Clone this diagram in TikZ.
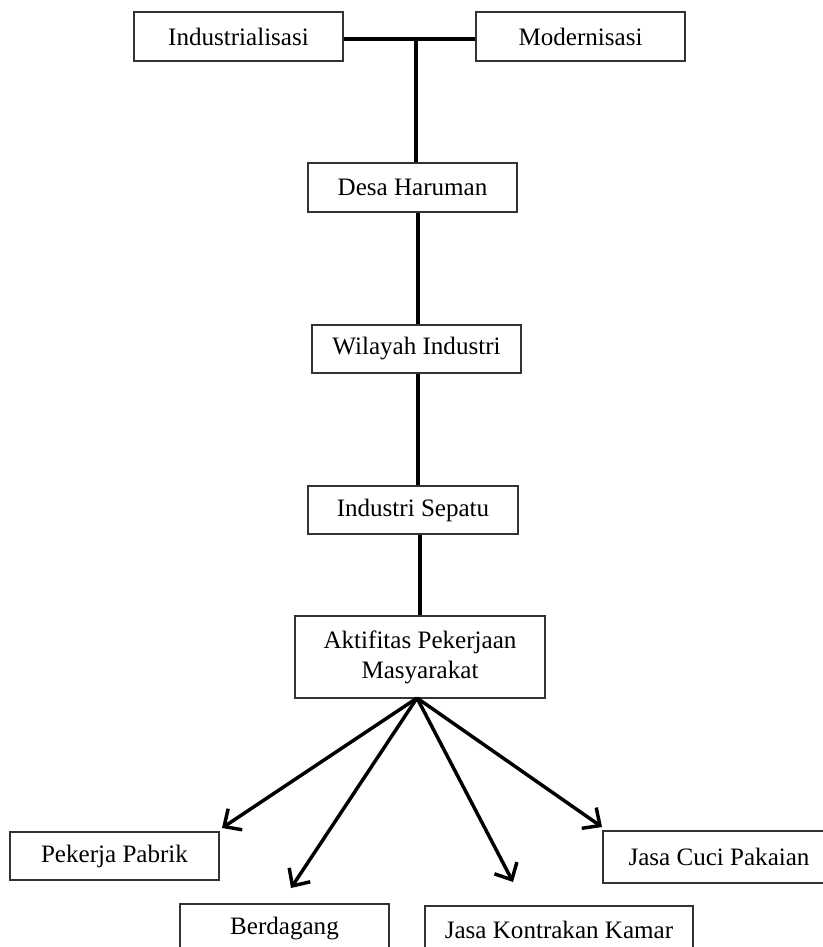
\documentclass[tikz,border=0pt]{standalone}
\usepackage{fontspec}
\setmainfont{Liberation Serif}
\usetikzlibrary{arrows.meta}
\begin{document}
\begin{tikzpicture}[x=0.75pt,y=-0.75pt,
  box/.style={draw=black!80,line width=1pt,fill=white,inner sep=0pt,align=center,
    font=\fontsize{18.8}{22.5}\selectfont},
  link/.style={line width=2.6pt,line cap=butt},
  arr/.style={line width=2.6pt,-{Straight Barb[length=10pt,width=19pt,line width=2.6pt]}}]
\useasboundingbox (0,0) rectangle (823,947);
\clip (0,0) rectangle (823,947);
\node[box,minimum width=209*0.75pt,minimum height=49*0.75pt] (ind) at (238.5,36.5) {Industrialisasi};
\node[box,minimum width=209*0.75pt,minimum height=49*0.75pt] (mod) at (580.5,36.5) {Modernisasi};
\node[box,minimum width=209*0.75pt,minimum height=49*0.75pt] (desa) at (412.5,187.5) {Desa Haruman};
\node[box,minimum width=209*0.75pt,minimum height=48*0.75pt] (wil) at (416.5,349) {Wilayah Industri};
\node[box,minimum width=210*0.75pt,minimum height=48*0.75pt] (sep) at (413,510) {Industri Sepatu};
\node[box,minimum width=250*0.75pt,minimum height=82*0.75pt] (akt) at (420,657) {Aktifitas Pekerjaan\\Masyarakat};
\node[box,minimum width=209*0.75pt,minimum height=48*0.75pt] (pek) at (114.5,856) {Pekerja Pabrik};
\node[box,minimum width=209*0.75pt,minimum height=48*0.75pt] (ber) at (284.5,928) {Berdagang};
\node[box,minimum width=268*0.75pt,minimum height=48*0.75pt] (jk) at (559,930) {Jasa Kontrakan Kamar};
\node[box,minimum width=232*0.75pt,minimum height=52*0.75pt] (jc) at (719,857) {Jasa Cuci Pakaian};
% junction and line positions
\coordinate (j) at (416,39);
\coordinate (x1) at (418,0);
\coordinate (x2) at (420,0);
\coordinate (src) at (417,698);
\coordinate (tpek) at (222,828);
\coordinate (tber) at (291,888);
\coordinate (tjk) at (513,882);
\coordinate (tjc) at (602,827);
\draw[link] (ind.east |- j) -- (mod.west |- j);
\draw[link] (j) -- (desa.north -| j);
\draw[link] (desa.south -| x1) -- (wil.north -| x1);
\draw[link] (wil.south -| x1) -- (sep.north -| x1);
\draw[link] (sep.south -| x2) -- (akt.north -| x2);
\draw[arr] (src) -- (tpek);
\draw[arr] (src) -- (tber);
\draw[arr] (src) -- (tjk);
\draw[arr] (src) -- (tjc);
\end{tikzpicture}
\end{document}
